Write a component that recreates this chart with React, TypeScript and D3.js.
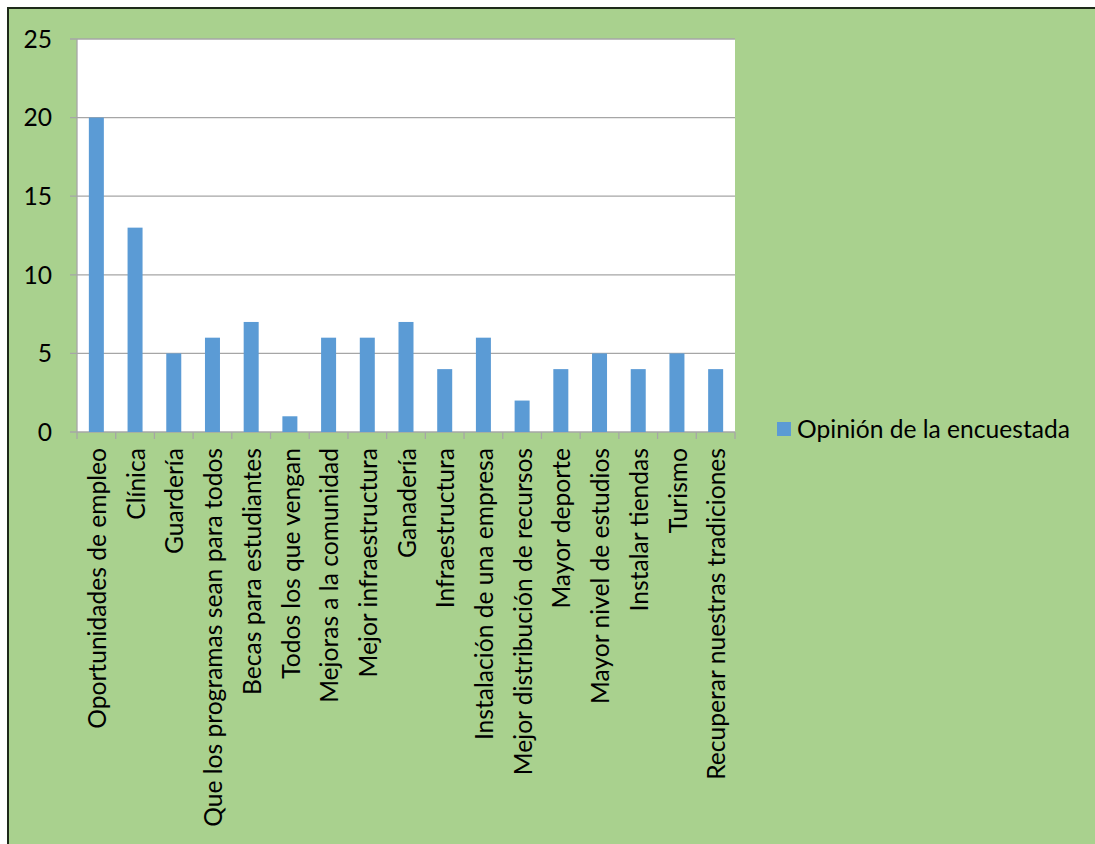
import React from "react";
import * as d3 from "d3";

const categories = [
  "Oportunidades de empleo",
  "Clínica",
  "Guardería",
  "Que los programas sean para todos",
  "Becas para estudiantes",
  "Todos los que vengan",
  "Mejoras a la comunidad",
  "Mejor infraestructura",
  "Ganadería",
  "Infraestructura",
  "Instalación de una empresa",
  "Mejor distribución de recursos",
  "Mayor deporte",
  "Mayor nivel de estudios",
  "Instalar tiendas",
  "Turismo",
  "Recuperar nuestras tradiciones",
];
const values = [20, 13, 5, 6, 7, 1, 6, 6, 7, 4, 6, 2, 4, 5, 4, 5, 4];
const yTicks = [0, 5, 10, 15, 20, 25];
const seriesName = "Opinión de la encuestada";

export default function App() {
  const W = 1095, H = 844;
  const left = 77, right = 735, top = 39, bottom = 432;
  const x = d3.scaleBand<string>().domain(categories).range([left, right]).paddingInner(0).paddingOuter(0);
  const y = d3.scaleLinear().domain([0, 25]).range([bottom, top]);
  const barW = 15;
  const font = "Lato, 'Open Sans', sans-serif";
  const grid = "#a6a6a6";
  const fs = 24.6;
  return (
    <>
      <style>{"html,body{margin:0;overflow:hidden}"}</style>
      <svg width={W} height={H} style={{ position: "absolute", left: 0, top: 0, display: "block", overflow: "hidden" }} fontFamily={font}>
        <rect x={0} y={0} width={W} height={H} fill="#ffffff" />
        <rect x={8} y={8} width={W + 40} height={H + 40} fill="#a9d18e" stroke="#1e2a1a" strokeWidth={2} />
        <rect x={left} y={top} width={right - left} height={bottom - top} fill="#ffffff" />
        {yTicks.map((t) => (
          <g key={t}>
            <line x1={left - 7} x2={right} y1={y(t)} y2={y(t)} stroke={grid} strokeWidth={1.3} />
            <text x={52} y={y(t)} dy="0.36em" textAnchor="end" fontSize={fs} fill="#000">
              {t}
            </text>
          </g>
        ))}
        <line x1={left} x2={left} y1={top} y2={bottom} stroke={grid} strokeWidth={1.3} />
        {categories.map((c, i) => (
          <line key={"t" + i} x1={x(c)!} x2={x(c)!} y1={bottom} y2={bottom + 7} stroke={grid} strokeWidth={1.3} />
        ))}
        <line x1={right} x2={right} y1={bottom} y2={bottom + 7} stroke={grid} strokeWidth={1.3} />
        {categories.map((c, i) => {
          const cx = x(c)! + x.bandwidth() / 2;
          return (
            <rect key={"b" + i} x={cx - barW / 2} y={y(values[i])} width={barW} height={y(0) - y(values[i])} fill="#5b9bd5" />
          );
        })}
        {categories.map((c, i) => {
          const cx = x(c)! + x.bandwidth() / 2 + 0.8;
          return (
            <text
              key={"l" + i}
              transform={`translate(${cx},${448}) rotate(-90)`}
              dy="0.36em"
              textAnchor="end"
              fontSize={fs}
              fill="#000"
            >
              {c}
            </text>
          );
        })}
        <rect x={777} y={422} width={14} height={14} fill="#5b9bd5" />
        <text x={797} y={429} dy="0.36em" fontSize={fs} fill="#000">
          {seriesName}
        </text>
      </svg>
    </>
  );
}
